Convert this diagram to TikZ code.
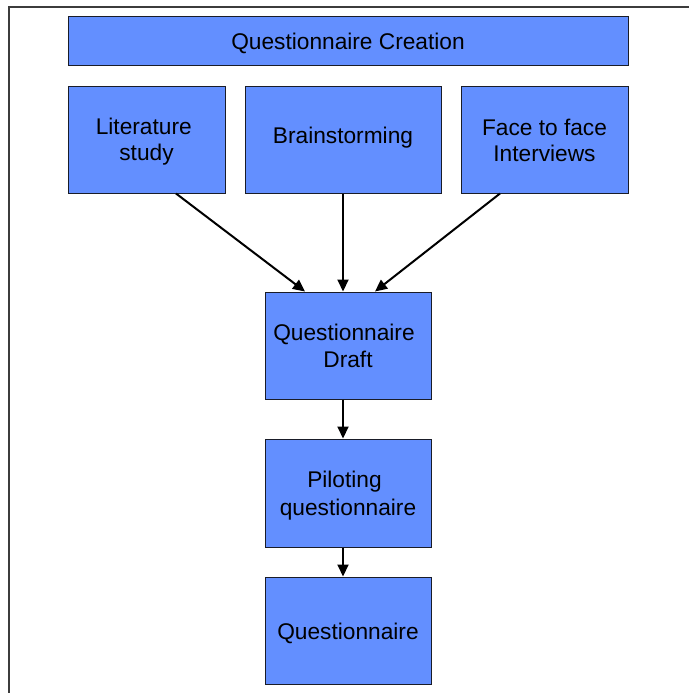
\documentclass[tikz,border=0pt]{standalone}
\usepackage{fontspec}
\setmainfont{Liberation Sans}
\usetikzlibrary{arrows.meta}
\definecolor{boxblue}{RGB}{99,143,255}
\definecolor{boxedge}{RGB}{25,28,40}
\definecolor{framegray}{RGB}{60,60,60}
% fixed line box so every line sits at the same place whatever its glyphs
\newcommand\lnstrut{\rule[-4.5pt]{0pt}{26pt}}
\begin{document}
\begin{tikzpicture}[x=1pt,y=-1pt,
  stage/.style={draw=boxedge, line width=1pt, fill=boxblue, inner sep=0pt,
    align=center, font=\fontsize{22.7}{26}\selectfont},
  flow/.style={line width=2pt, -{Triangle[length=12pt,width=11pt]}}]
\useasboundingbox (0,0) rectangle (688,693);
% outer frame (runs off the right and bottom edges)
\draw[framegray, line width=1.3pt] (9,700) -- (9,7) -- (700,7);
% boxes
\node[stage, minimum width=560pt, minimum height=49pt] (top) at (348,41.5)
  {Questionnaire Creation\lnstrut};
\node[stage, minimum width=157pt, minimum height=107pt] (lit) at (146.5,139.5)
  {Literature\kern5.5pt\lnstrut\\study\lnstrut};
\node[stage, minimum width=196pt, minimum height=107pt] (brain) at (343,139.5)
  {\raisebox{5pt}[21.5pt][4.5pt]{Brainstorming}};
\node[stage, minimum width=167pt, minimum height=107pt] (face) at (544.5,139.5)
  {Face to face\lnstrut\\Interviews\lnstrut};
\node[stage, minimum width=166pt, minimum height=107pt] (draft) at (348,345.5)
  {Questionnaire\kern8pt\lnstrut\\[1pt]Draft\lnstrut};
\node[stage, minimum width=166pt, minimum height=108pt] (pilot) at (348,493)
  {Piloting\kern7pt\lnstrut\\[1pt]questionnaire\lnstrut};
\node[stage, minimum width=166pt, minimum height=107pt] (final) at (348,630.5)
  {Questionnaire\lnstrut};
% connectors
\draw[flow] ([xshift=29.5pt]lit.south) -- ([xshift=-43pt]draft.north);
\draw[flow] (brain.south) -- (brain.south |- draft.north);
\draw[flow] ([xshift=-44.5pt]face.south) -- ([xshift=27pt]draft.north);
\draw[flow] ([xshift=-5pt]draft.south) -- ([xshift=-5pt]pilot.north);
\draw[flow] ([xshift=-5pt]pilot.south) -- ([xshift=-5pt]final.north);
\end{tikzpicture}
\end{document}
